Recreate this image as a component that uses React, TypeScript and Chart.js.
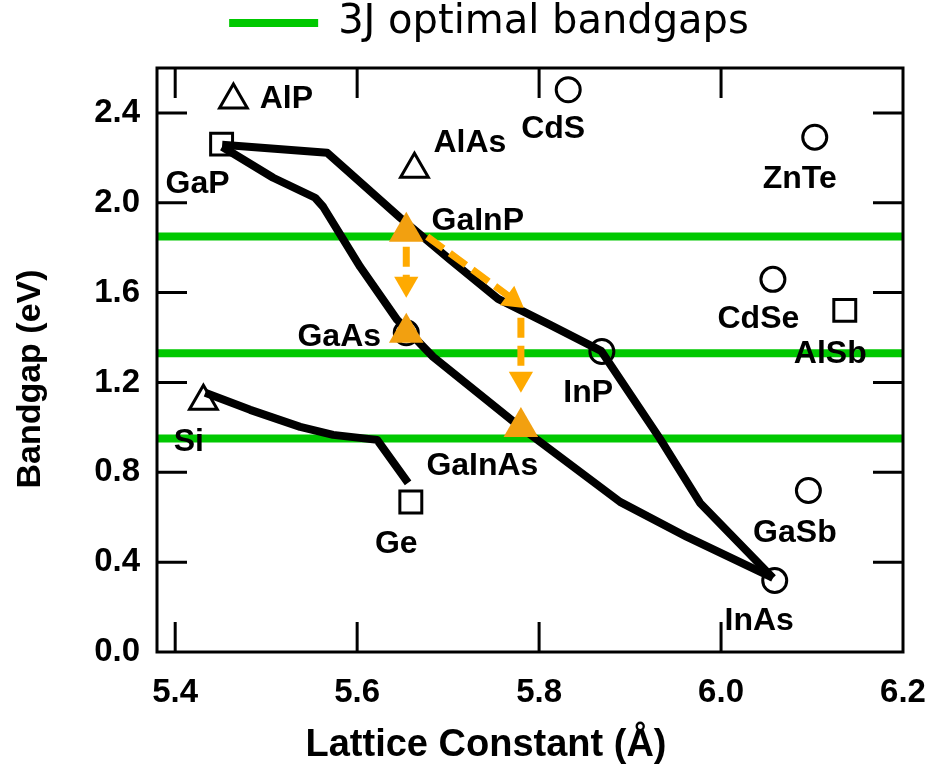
import React, { useEffect, useRef } from 'react';
import { Chart, registerables } from 'chart.js';

Chart.register(...registerables);

// ---------- axes ----------
const X_MIN = 5.38;
const X_MAX = 6.2;
const Y_MIN = 0;
const Y_MAX = 2.6;
const xTickValues = [5.4, 5.6, 5.8, 6.0, 6.2];
const yTickValues = [0, 0.4, 0.8, 1.2, 1.6, 2.0, 2.4];

// ---------- 3J optimal bandgaps (eV) ----------
const optimalGaps = [1.85, 1.33, 0.95];

// ---------- binary semiconductors ----------
const materialNames = ['AlP', 'GaP', 'AlAs', 'CdS', 'ZnTe', 'CdSe', 'AlSb', 'InP', 'GaAs', 'Si', 'Ge', 'GaSb', 'InAs'];
const materialLattice = [5.464, 5.451, 5.663, 5.832, 6.103, 6.057, 6.136, 5.869, 5.654, 5.431, 5.659, 6.096, 6.059];
const materialGap = [2.457, 2.261, 2.149, 2.503, 2.292, 1.659, 1.521, 1.338, 1.421, 1.116, 0.668, 0.719, 0.318];

// ---------- alloy curves ----------
const gapInpCurveLattice = [5.4516, 5.567, 5.5868, 5.6473, 5.7022, 5.7549, 5.8121, 5.8681, 5.933, 5.9769, 6.0571];
const gapInpCurveGap = [2.2584, 2.2227, 2.1514, 1.9332, 1.7461, 1.5724, 1.4566, 1.3408, 0.9488, 0.6637, 0.3296];
const gapGaasCurveLattice = [5.4516, 5.5077, 5.5538, 5.5626, 5.6033, 5.644, 5.6835, 5.7791, 5.889, 5.9626, 6.0571];
const gapGaasCurveGap = [2.2494, 2.1114, 2.0223, 1.9822, 1.7149, 1.4788, 1.314, 1.0022, 0.6682, 0.5122, 0.3296];
const siGeCurveLattice = [5.433, 5.4824, 5.5374, 5.5736, 5.622, 5.656];
const siGeCurveGap = [1.1537, 1.078, 1.0022, 0.9666, 0.9443, 0.7528];

// ---------- 3J cell materials ----------
const cellNames = ['GaInP', 'GaAs', 'GaInAs'];
const cellLattice = [5.654, 5.654, 5.78];
const cellGap = [1.871, 1.421, 1.002];

// ---------- arrows ----------
const arrowFromLattice = [5.654, 5.677, 5.78];
const arrowFromGap = [1.804, 1.849, 1.488];
const arrowToLattice = [5.654, 5.766, 5.78];
const arrowToGap = [1.662, 1.586, 1.27];
const arrowHeadLattice = [5.654, 5.771, 5.78];
const arrowHeadGap = [1.639, 1.569, 1.216];

// ---------- styles ----------
const GREEN = '#00C800';
const ORANGE = '#F2A010';
const ARROW = '#FFAA00';
const FONT = "'Liberation Sans', Arial, Helvetica, sans-serif";
const materialShape = ['triangle', 'rect', 'triangle', 'circle', 'circle', 'circle', 'rect', 'circle', 'circle', 'triangle', 'rect', 'circle', 'circle'];
const shapeRadius: Record<string, number> = { triangle: 16, rect: 15.5, circle: 12 };
const materialLabelOffset: [number, number][] = [
  [53, -3.5], [-24, 37.5], [55.5, -28.5], [-15, 37], [-15, 39], [-14.5, 37], [-14.5, 41.5],
  [-13.7, 39.3], [-67, 1.5], [-14.5, 38], [-14.5, 39.5], [-13.5, 39.5], [-15.5, 38],
];
const cellLabelOffset: ([number, number] | null)[] = [[71.5, -13.5], null, [-38.5, 37]];
const arrowHeadRotation = [180, 126.5, 180];
const TICK_LEN = 30;
const X_TITLE_CENTER = 486;
const Y_TITLE_CENTER = 379;

const pts = (xs: number[], ys: number[]) => xs.map((x, i) => ({ x, y: ys[i] }));

export default function App() {
  const canvasRef = useRef<HTMLCanvasElement>(null);

  useEffect(() => {
    const canvas = canvasRef.current;
    if (!canvas) return;
    Chart.defaults.font.family = FONT;

    const datasets: any[] = [];
    optimalGaps.forEach((g) => {
      datasets.push({
        label: '3J optimal bandgaps',
        data: [{ x: X_MIN, y: g }, { x: X_MAX, y: g }],
        showLine: true, borderColor: GREEN, backgroundColor: GREEN, borderWidth: 8,
        pointRadius: 0, order: 50, clip: false,
      });
    });
    [
      [gapInpCurveLattice, gapInpCurveGap],
      [gapGaasCurveLattice, gapGaasCurveGap],
      [siGeCurveLattice, siGeCurveGap],
    ].forEach(([xs, ys]) => {
      datasets.push({
        label: 'curve', data: pts(xs, ys), showLine: true, borderColor: '#000',
        borderWidth: 8, borderJoinStyle: 'round', pointRadius: 0, order: 40, clip: false,
      });
    });
    datasets.push({
      label: 'binaries',
      data: pts(materialLattice, materialGap),
      pointStyle: materialShape,
      pointRadius: materialShape.map((s) => shapeRadius[s]),
      pointBackgroundColor: 'rgba(0,0,0,0)',
      pointBorderColor: '#000',
      pointBorderWidth: 3,
      showLine: false,
      order: 30,
      clip: false,
    });
    arrowFromLattice.forEach((_, i) => {
      datasets.push({
        label: 'arrow',
        data: [{ x: arrowFromLattice[i], y: arrowFromGap[i] }, { x: arrowToLattice[i], y: arrowToGap[i] }],
        showLine: true, borderColor: ARROW, borderWidth: 7, borderDash: [20, 8],
        borderCapStyle: 'butt', pointRadius: 0, order: 20, clip: false,
      });
    });
    datasets.push({
      label: 'arrowheads',
      data: pts(arrowHeadLattice, arrowHeadGap),
      pointStyle: 'triangle', pointRadius: 14, pointRotation: arrowHeadRotation,
      pointBackgroundColor: ARROW, pointBorderWidth: 0, showLine: false, order: 15, clip: false,
    });
    datasets.push({
      label: '3J cells',
      data: pts(cellLattice, cellGap),
      pointStyle: 'triangle', pointRadius: 20,
      pointBackgroundColor: ORANGE, pointBorderWidth: 0, showLine: false, order: 10, clip: false,
    });

    const labelsPlugin = {
      id: 'materialLabels',
      afterDatasetsDraw(chart: any) {
        const { ctx, scales } = chart;
        const xs = scales.x;
        const ys = scales.y;
        ctx.save();
        ctx.font = `bold 32px ${FONT}`;
        ctx.fillStyle = '#000';
        ctx.textAlign = 'center';
        ctx.textBaseline = 'alphabetic';
        const draw = (name: string, x: number, y: number, off: [number, number]) => {
          const px = xs.getPixelForValue(x) + off[0];
          const py = ys.getPixelForValue(y) + off[1] + 11.5;
          ctx.fillText(name, px, py);
        };
        materialNames.forEach((n, i) => draw(n, materialLattice[i], materialGap[i], materialLabelOffset[i]));
        cellNames.forEach((n, i) => {
          const off = cellLabelOffset[i];
          if (off) draw(n, cellLattice[i], cellGap[i], off);
        });
        ctx.restore();
      },
    };

    const framePlugin = {
      id: 'frameTicks',
      afterDraw(chart: any) {
        const { ctx, chartArea: a, scales } = chart;
        ctx.save();
        ctx.strokeStyle = '#000';
        ctx.lineWidth = 3;
        ctx.strokeRect(a.left, a.top, a.right - a.left, a.bottom - a.top);
        ctx.beginPath();
        xTickValues.forEach((v) => {
          const p = scales.x.getPixelForValue(v);
          if (p > a.left + 2 && p < a.right - 2) {
            ctx.moveTo(p, a.bottom); ctx.lineTo(p, a.bottom - TICK_LEN);
            ctx.moveTo(p, a.top); ctx.lineTo(p, a.top + TICK_LEN);
          }
        });
        yTickValues.forEach((v) => {
          const p = scales.y.getPixelForValue(v);
          if (p > a.top + 2 && p < a.bottom - 2) {
            ctx.moveTo(a.left, p); ctx.lineTo(a.left + TICK_LEN, p);
            ctx.moveTo(a.right, p); ctx.lineTo(a.right - TICK_LEN, p);
          }
        });
        ctx.stroke();
        ctx.restore();
      },
    };

    const titlePlacement = {
      id: 'titlePlacement',
      afterLayout(chart: any) {
        const xs = chart.scales.x;
        const w = xs.right - xs.left;
        xs.left = X_TITLE_CENTER - w / 2;
        xs.right = xs.left + w;
        const ys = chart.scales.y;
        const h = ys.bottom - ys.top;
        ys.top = Y_TITLE_CENTER - h / 2;
        ys.bottom = ys.top + h;
        ys.left = 10;
      },
    };

    const chart = new Chart(canvas, {
      type: 'scatter',
      data: { datasets },
      options: {
        animation: false,
        responsive: false,
        events: [],
        layout: { padding: { left: 75, right: 27, top: 0, bottom: 0 } },
        plugins: {
          tooltip: { enabled: false },
          legend: {
            display: true,
            position: 'top',
            align: 'center',
            labels: {
              boxWidth: 89,
              boxHeight: 8,
              padding: 3,
              color: '#000',
              font: { family: "'DejaVu Sans', sans-serif", size: 40 },
              generateLabels: () => [{
                text: '3J optimal bandgaps', fillStyle: GREEN, strokeStyle: GREEN,
                lineWidth: 0, hidden: false, datasetIndex: 0, fontColor: '#000',
              }],
            },
          },
        },
        scales: {
          x: {
            type: 'linear', position: 'bottom', min: X_MIN, max: X_MAX,
            grid: { display: false, drawTicks: false }, border: { display: false },
            afterBuildTicks: (s: any) => { s.ticks = xTickValues.map((v) => ({ value: v })); },
            afterFit: (s: any) => { s.height = 126; s.paddingLeft = 0; s.paddingRight = 0; },
            ticks: {
              color: '#000', padding: 21, font: { size: 33, weight: 'bold' },
              callback: (v: any) => Number(v).toFixed(1), maxRotation: 0, autoSkip: false,
            },
            title: {
              display: true, text: 'Lattice Constant (Å)', color: '#000',
              font: { size: 38, weight: 'bold' }, padding: { top: 0, bottom: 10 },
            },
          },
          xTop: {
            type: 'linear', position: 'top', axis: 'x', min: X_MIN, max: X_MAX,
            grid: { display: false, drawTicks: false }, border: { display: false },
            ticks: { display: false },
            afterFit: (s: any) => { s.height = 15; s.paddingLeft = 0; s.paddingRight = 0; },
          },
          y: {
            type: 'linear', position: 'left', min: Y_MIN, max: Y_MAX,
            grid: { display: false, drawTicks: false }, border: { display: false },
            afterBuildTicks: (s: any) => { s.ticks = yTickValues.map((v) => ({ value: v })); },
            afterFit: (s: any) => { s.width = 82; s.paddingTop = 0; s.paddingBottom = 0; },
            ticks: {
              color: '#000', padding: 17, font: { size: 33, weight: 'bold' },
              callback: (v: any) => Number(v).toFixed(1), autoSkip: false,
            },
            title: {
              display: true, text: 'Bandgap (eV)', color: '#000',
              font: { size: 34, weight: 'bold' }, padding: { top: 0, bottom: 0 },
            },
          },
        },
      } as any,
      plugins: [labelsPlugin, framePlugin, titlePlacement],
    });
    return () => chart.destroy();
  }, []);

  return (
    <div style={{ position: 'fixed', left: 0, top: 0, width: 930, height: 778, background: '#fff' }}>
      <canvas ref={canvasRef} width={930} height={778} style={{ display: 'block' }} />
    </div>
  );
}
